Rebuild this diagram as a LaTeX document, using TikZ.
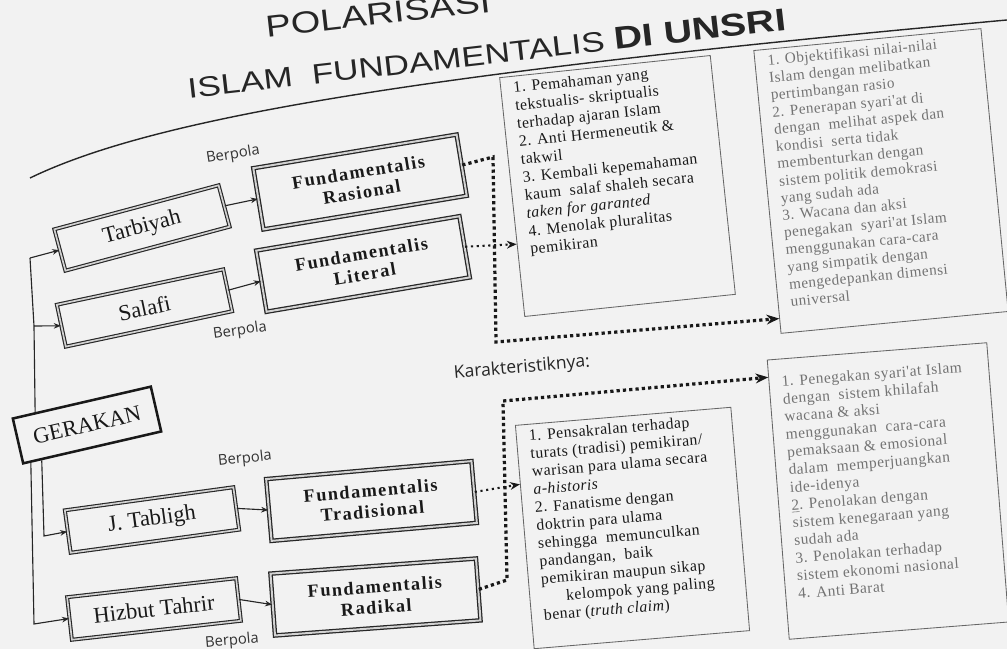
\documentclass[tikz,border=0pt]{standalone}
\usepackage{fontspec}
\setmainfont{Liberation Serif}
\newfontfamily\titlefont{Liberation Sans}
\newfontfamily\labelfont{Open Sans}
\newfontfamily\boxfont[LetterSpace=3]{Liberation Serif}
\newfontfamily\polafont[LetterSpace=8]{Liberation Serif}
\usetikzlibrary{arrows.meta}

\begin{document}
\begin{tikzpicture}[x=0.025cm, y=-0.025cm,
	gerak/.style={draw=black!85, line width=0.8pt, double=gray!35, double distance=1.2pt,
		minimum width=4.25cm, minimum height=1.07cm, inner sep=0pt, text=black!90,
		font=\fontsize{16}{16}\selectfont},
	pola/.style={draw=black!85, line width=0.9pt, double=gray!35, double distance=1.4pt,
		minimum width=5.15cm, minimum height=1.55cm, inner sep=0pt, align=center, text=black!90,
		font=\polafont\fontsize{13}{14.6}\selectfont\bfseries},
	ciri/.style={draw=black!60, line width=0.6pt, inner xsep=9pt, inner ysep=4pt, text=black!90,
		font=\boxfont\fontsize{11.2}{12.8}\selectfont},
	berpola/.style={text=black!80, font=\labelfont\fontsize{10.5}{10.5}\selectfont},
	judul/.style={anchor=base west, text=black!85, yscale=0.8},
	link/.style={draw=black!85, line width=0.8pt},
	tip/.style={-{Stealth[length=5pt, width=4pt]}},
	dotbig/.style={black!90, line width=2.3pt, dash pattern=on 2.3pt off 2.2pt, -{Stealth[length=9pt, width=7pt]}},
	dotsmall/.style={black!90, line width=1.5pt, dash pattern=on 1.5pt off 2.6pt, -{Stealth[length=7pt, width=5.5pt]}}
	]
	\useasboundingbox (0,0) rectangle (1007,649);
	\clip (0,0) rectangle (1007,649);
	\fill[black!5] (0,0) rectangle (1007,649);
	
	% judul
	\node[rotate=6.5, judul, font=\titlefont\fontsize{27}{27}\selectfont] (title1) at (262,38) {POLARISASI};
	\node[rotate=6.5, judul, font=\titlefont\fontsize{25}{25}\selectfont] (title2) at (184,99)
		{ISLAM\ \ FUNDAMENTALIS {\fontsize{28}{28}\selectfont\bfseries DI UNSRI}};
	\draw[black!85, line width=1pt] (30,178) .. controls (150,120) and (400,75) .. (1007,20);
	
	% gerakan
	\node[draw=black!90, line width=1.8pt, minimum width=3.54cm, minimum height=1.15cm, inner sep=0pt, rotate=13,
		text=black!90, font=\fontsize{16}{16}\selectfont] (gerakan) at (87,425) {GERAKAN};
	\node[gerak, rotate=15] (tarbiyah) at (142,228) {Tarbiyah};
	\node[gerak, rotate=12] (salafi) at (144.5,308) {Salafi};
	\node[gerak, rotate=7.8] (tabligh) at (152,520) {J. Tabligh};
	\node[gerak, rotate=6.4] (hizbut) at (154,609) {Hizbut Tahrir};
	
	% pola
	\node[pola, rotate=9.4] (rasional) at (360,182) {Fundamentalis\\Rasional};
	\node[pola, rotate=9.6] (literal) at (363,264) {Fundamentalis\\Literal};
	\node[pola, rotate=5] (tradisional) at (371.5,501) {Fundamentalis\\Tradisional};
	\node[pola, rotate=4.2] (radikal) at (375.5,597) {Fundamentalis\\Radikal};
	
	\node[berpola, rotate=9] (berpola1) at (233,155) {Berpola};
	\node[berpola, rotate=8] (berpola2) at (240,331) {Berpola};
	\node[berpola, rotate=6] (berpola3) at (245,459) {Berpola};
	\node[berpola, rotate=5] (berpola4) at (232,641) {Berpola};
	\node[rotate=5, text=black!85, font=\labelfont\fontsize{12.5}{12.5}\selectfont] (karlabel) at (522,368) {Karakteristiknya:};
	
	% karakteristik
	\node[ciri, rotate=6] (kar1) at (617.5,186) {\parbox[t][5.72cm][t]{4.66cm}{%
		1. Pemahaman yang\\
		tekstualis- skriptualis\\
		terhadap ajaran Islam\\
		2. Anti Hermeneutik \&\\
		takwil\\
		3. Kembali kepemahaman\\
		kaum\ \ salaf shaleh secara\\
		\textit{taken for garanted}\\
		4. Menolak pluralitas\\
		pemikiran}};
	\node[ciri, rotate=5.5, text=black!55, font=\boxfont\fontsize{10.8}{12.3}\selectfont] (kar2) at (881,181) {\parbox[t][6.82cm][t]{5.07cm}{%
		1. Objektifikasi nilai-nilai\\
		Islam dengan melibatkan\\
		pertimbangan rasio\\
		2. Penerapan syari'at di\\
		dengan\ \ melihat aspek dan\\
		kondisi\ \ serta tidak\\
		membenturkan dengan\\
		sistem politik demokrasi\\
		yang sudah ada\\
		3. Wacana dan aksi\\
		penegakan\ \ syari'at Islam\\
		menggunakan cara-cara\\
		yang simpatik dengan\\
		mengedepankan dimensi\\
		universal}};
	\node[ciri, rotate=4.8] (kar3) at (632.5,528) {\parbox[t][5.32cm][t]{4.77cm}{%
		1. Pensakralan terhadap\\
		turats (tradisi) pemikiran/\\
		warisan para ulama secara\\
		\textit{a-historis}\\
		2. Fanatisme dengan\\
		doktrin para ulama\\
		sehingga\ \ memunculkan\\
		pandangan,\ \ baik\\
		pemikiran maupun sikap\\
		\hspace*{1.5em}kelompok yang paling\\
		benar (\textit{truth claim})}};
	\node[ciri, rotate=4.5, text=black!55, font=\boxfont\fontsize{11}{12.6}\selectfont] (kar4) at (888,491) {\parbox[t][6.72cm][t]{4.87cm}{%
		\vspace*{8pt}
		1. Penegakan syari'at Islam\\
		dengan\ \ sistem khilafah\\
		wacana \& aksi\\
		menggunakan\ \ cara-cara\\
		pemaksaan \& emosional\\
		dalam\ \ memperjuangkan\\
		ide-idenya\\
		\underline{2}. Penolakan dengan\\
		sistem kenegaraan yang\\
		sudah ada\\
		3. Penolakan terhadap\\
		sistem ekonomi nasional\\
		4. Anti Barat}};
	
	% garis gerakan
	\coordinate (trunk1) at (30,258);
	\coordinate (trunk2) at (34,326);
	\coordinate (trunk3) at (44,536);
	\coordinate (trunk4) at (34,624);
	\draw[link] (gerakan.153) -- (trunk2) -- (trunk1);
	\draw[link, tip] (trunk1) -- (tarbiyah.west);
	\draw[link, tip] (trunk2) -- (salafi.west);
	\draw[link, tip] (gerakan.205) -- (trunk3) -- (tabligh.west);
	\draw[link, tip] (gerakan.201) -- (trunk4) -- (hizbut.west);
	
	\draw[link, tip] (tarbiyah.east) -- (rasional.west);
	\draw[link, tip] (salafi.east) -- (literal.west);
	\draw[link, tip] (tabligh.east) -- (tradisional.west);
	\draw[link, tip] (hizbut.east) -- (radikal.west);
	
	% garis titik
	\coordinate (dot1) at (493,157);
	\coordinate (dot2) at (496,342);
	\coordinate (dot3) at (507,580);
	\coordinate (dot4) at (503,401);
	\draw[dotbig] (rasional.east) -- (dot1) -- (dot2) -- (kar2.228);
	\draw[dotsmall] (literal.east) -- (kar1.204);
	\draw[dotsmall] (tradisional.east) -- (kar3.154);
	\draw[dotbig] (radikal.east) -- (dot3) -- (dot4) -- (kar4.132);
\end{tikzpicture}
\end{document}
